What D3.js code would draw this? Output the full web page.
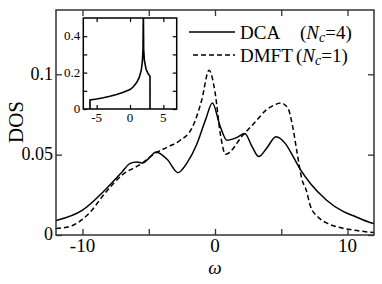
<!DOCTYPE html>
<html>
<head>
<meta charset="utf-8">
<script src="https://cdn.jsdelivr.net/npm/d3@7"></script>
<style>
  body { margin: 0; background: #fff; }
</style>
</head>
<body>
<div class="canvas"></div>
<script>
// DCA (Nc=4) curve
const dcaW = [-12, -10, -8.3, -7, -6.4, -5.9, -5.45, -5, -4.45, -3.6, -2.8, -2.1, -1.4, -0.7, -0.2, 0.4, 0.9, 1.6, 2.25, 2.8, 3.3, 3.9, 4.6, 5.3, 5.9, 6.5, 7.2, 8.4, 9.7, 10.5, 11.7, 12]
const dcaD = [0.009, 0.0155, 0.028, 0.0394, 0.0446, 0.0455, 0.0448, 0.0477, 0.0517, 0.047, 0.0388, 0.045, 0.056, 0.072, 0.0822, 0.0674, 0.059, 0.0605, 0.0632, 0.055, 0.0488, 0.054, 0.0612, 0.057, 0.0488, 0.040, 0.032, 0.0218, 0.0145, 0.0118, 0.0078, 0.0072]

// DMFT (Nc=1) curve
const dmftW = [-12, -10.8, -9.5, -8.3, -7, -5.7, -4.5, -3.5, -2.7, -1.7, -1.0, -0.45, 0, 0.4, 0.8, 2.1, 3.0, 3.9, 4.5, 4.95, 5.5, 5.85, 6.2, 6.55, 6.9, 7.2, 7.8, 8.5, 9.5, 10.5, 12]
const dmftD = [0.004, 0.0058, 0.0135, 0.026, 0.0374, 0.0436, 0.0509, 0.055, 0.0585, 0.0672, 0.084, 0.1025, 0.089, 0.063, 0.0502, 0.062, 0.070, 0.078, 0.081, 0.0822, 0.079, 0.068, 0.051, 0.035, 0.0275, 0.018, 0.011, 0.0072, 0.0045, 0.003, 0.0015]

// inset: bare DOS
const bareW = [-6, -6, -5, -4, -3, -2, -1, 0, 0.5, 1.0, 1.4, 1.7, 1.85, 1.95, 2.0, 2.05, 2.15, 2.4, 2.7, 3.0, 3.0]
const bareD = [0, 0.05, 0.055, 0.062, 0.07, 0.08, 0.092, 0.107, 0.122, 0.145, 0.175, 0.215, 0.26, 0.33, 0.55, 0.33, 0.27, 0.22, 0.195, 0.18, 0]

const xTicks = [-10, -5, 0, 5, 10]
const xLabels = [-10, 0, 10]
const yTicks = [0, 0.05, 0.1]
const insetXTicks = [-5, 0, 5]
const insetYTicks = [0, 0.1, 0.2, 0.3, 0.4]
const insetYLabels = [0, 0.2, 0.4]

const legendNames = ['DCA', 'DMFT']
const legendNc = ['4', '1']

const W = 382, H = 284
const margin = { top: 10, right: 8, bottom: 49, left: 56 }
const w = W - margin.left - margin.right
const h = H - margin.top - margin.bottom
const serif = "'Liberation Serif', 'Times New Roman', Times, serif"

const svg = d3.select('.canvas').append('svg')
  .attr('width', W)
  .attr('height', H)
  .attr('font-family', serif)

const x = d3.scaleLinear().domain([-12, 12]).range([margin.left, margin.left + w])
const y = d3.scaleLinear().domain([0, 0.14]).range([margin.top + h, margin.top])

const frameCol = '#333'

svg.append('defs').append('clipPath').attr('id', 'mainClip')
  .append('rect')
  .attr('x', margin.left).attr('y', margin.top)
  .attr('width', w).attr('height', h)

const line = (xs, ys) => d3.line()
  .x(i => xs(i[0])).y(i => ys(i[1]))
  .curve(d3.curveMonotoneX)

const pairs = (a, b) => a.map((v, i) => [v, b[i]])

// curves
svg.append('path')
  .attr('clip-path', 'url(#mainClip)')
  .attr('d', line(x, y)(pairs(dcaW, dcaD)))
  .attr('fill', 'none').attr('stroke', '#000').attr('stroke-width', 1.5)

svg.append('path')
  .attr('clip-path', 'url(#mainClip)')
  .attr('d', line(x, y)(pairs(dmftW, dmftD)))
  .attr('fill', 'none').attr('stroke', '#000').attr('stroke-width', 1.5)
  .attr('stroke-dasharray', '5,3')

// axes, ticks point inwards
const tickLen = 6
svg.append('g').attr('transform', `translate(0,${margin.top + h})`)
  .call(d3.axisBottom(x).tickValues(xTicks).tickSizeInner(-tickLen).tickSizeOuter(0).tickFormat(''))
svg.append('g').attr('transform', `translate(0,${margin.top})`)
  .call(d3.axisTop(x).tickValues(xTicks).tickSizeInner(-tickLen).tickSizeOuter(0).tickFormat(''))
svg.append('g').attr('transform', `translate(${margin.left},0)`)
  .call(d3.axisLeft(y).tickValues(yTicks).tickSizeInner(-tickLen).tickSizeOuter(0).tickFormat(''))
svg.append('g').attr('transform', `translate(${margin.left + w},0)`)
  .call(d3.axisRight(y).tickValues(yTicks).tickSizeInner(-tickLen).tickSizeOuter(0).tickFormat(''))

svg.selectAll('.domain').remove()
svg.selectAll('.tick line').attr('stroke', frameCol).attr('stroke-width', 1.3)

svg.append('rect')
  .attr('x', margin.left).attr('y', margin.top)
  .attr('width', w).attr('height', h)
  .attr('fill', 'none').attr('stroke', frameCol).attr('stroke-width', 1.5)

// tick labels
svg.selectAll('.xlab').data(xLabels).enter().append('text')
  .attr('x', d => x(d)).attr('y', 252)
  .attr('text-anchor', 'middle').attr('font-size', 19)
  .text(d => d < 0 ? '-' + Math.abs(d) : d)

svg.selectAll('.ylab').data(yTicks).enter().append('text')
  .attr('x', margin.left - 3).attr('y', d => y(d))
  .attr('dy', '0.3em')
  .attr('text-anchor', 'end').attr('font-size', 18)
  .text(d => d === 0 ? '0' : String(d))

// axis titles
svg.append('text')
  .attr('transform', `translate(23,122) rotate(-90)`)
  .attr('text-anchor', 'middle').attr('font-size', 21)
  .text('DOS')

svg.append('text')
  .attr('x', x(0)).attr('y', 274)
  .attr('text-anchor', 'middle').attr('font-size', 19).attr('font-style', 'italic')
  .text('ω')

// legend
const legend = svg.append('g')
const parenX = [300, 296]
legendNames.forEach((name, i) => {
  const ly = 32 + i * 23
  legend.append('line')
    .attr('x1', i ? 193 : 189).attr('x2', 235).attr('y1', ly).attr('y2', ly)
    .attr('stroke', '#000').attr('stroke-width', 1.5)
    .attr('stroke-dasharray', i ? '5,3' : null)
  legend.append('text').attr('x', 240).attr('y', ly + 7).attr('font-size', 19).text(name)
  const t = legend.append('text').attr('x', parenX[i]).attr('y', ly + 7).attr('font-size', 19)
  t.append('tspan').text('(')
  t.append('tspan').attr('font-style', 'italic').text('N')
  t.append('tspan').attr('font-style', 'italic').attr('font-size', 14).attr('dy', 3).text('c')
  t.append('tspan').attr('dy', -3).text('=' + legendNc[i] + ')')
})

// inset
const ins = { left: 83.3, right: 176.7, top: 18, bottom: 109 }
const ix = d3.scaleLinear().domain([-7, 7]).range([ins.left, ins.right])
const iy = d3.scaleLinear().domain([0, 0.5]).range([ins.bottom, ins.top])

const inset = svg.append('g')
inset.append('rect')
  .attr('x', ins.left).attr('y', ins.top)
  .attr('width', ins.right - ins.left).attr('height', ins.bottom - ins.top)
  .attr('fill', '#fff')

svg.select('defs').append('clipPath').attr('id', 'insClip')
  .append('rect')
  .attr('x', ins.left).attr('y', ins.top)
  .attr('width', ins.right - ins.left).attr('height', ins.bottom - ins.top)

inset.append('path')
  .attr('clip-path', 'url(#insClip)')
  .attr('d', d3.line().x(d => ix(d[0])).y(d => iy(d[1])).curve(d3.curveLinear)(pairs(bareW, bareD)))
  .attr('fill', 'none').attr('stroke', '#000').attr('stroke-width', 1.6)

const iTick = 4
inset.append('g').attr('transform', `translate(0,${ins.bottom})`)
  .call(d3.axisBottom(ix).tickValues(insetXTicks).tickSizeInner(-iTick).tickSizeOuter(0).tickFormat(''))
inset.append('g').attr('transform', `translate(0,${ins.top})`)
  .call(d3.axisTop(ix).tickValues(insetXTicks).tickSizeInner(-iTick).tickSizeOuter(0).tickFormat(''))
inset.append('g').attr('transform', `translate(${ins.left},0)`)
  .call(d3.axisLeft(iy).tickValues(insetYTicks).tickSizeInner(-iTick).tickSizeOuter(0).tickFormat(''))
inset.append('g').attr('transform', `translate(${ins.right},0)`)
  .call(d3.axisRight(iy).tickValues(insetYTicks).tickSizeInner(-iTick).tickSizeOuter(0).tickFormat(''))
inset.selectAll('.domain').remove()
inset.selectAll('.tick line').attr('stroke', '#000').attr('stroke-width', 1.2)

inset.append('rect')
  .attr('x', ins.left).attr('y', ins.top)
  .attr('width', ins.right - ins.left).attr('height', ins.bottom - ins.top)
  .attr('fill', 'none').attr('stroke', '#000').attr('stroke-width', 1.5)

inset.selectAll('.ixlab').data(insetXTicks).enter().append('text')
  .attr('x', d => ix(d)).attr('y', ins.bottom + 13)
  .attr('text-anchor', 'middle').attr('font-size', 13)
  .text(d => d < 0 ? '-' + Math.abs(d) : d)

inset.selectAll('.iylab').data(insetYLabels).enter().append('text')
  .attr('x', ins.left - 3).attr('y', d => iy(d))
  .attr('dy', '0.32em')
  .attr('text-anchor', 'end').attr('font-size', 13)
  .text(d => d === 0 ? '0' : String(d))
</script>
</body>
</html>
